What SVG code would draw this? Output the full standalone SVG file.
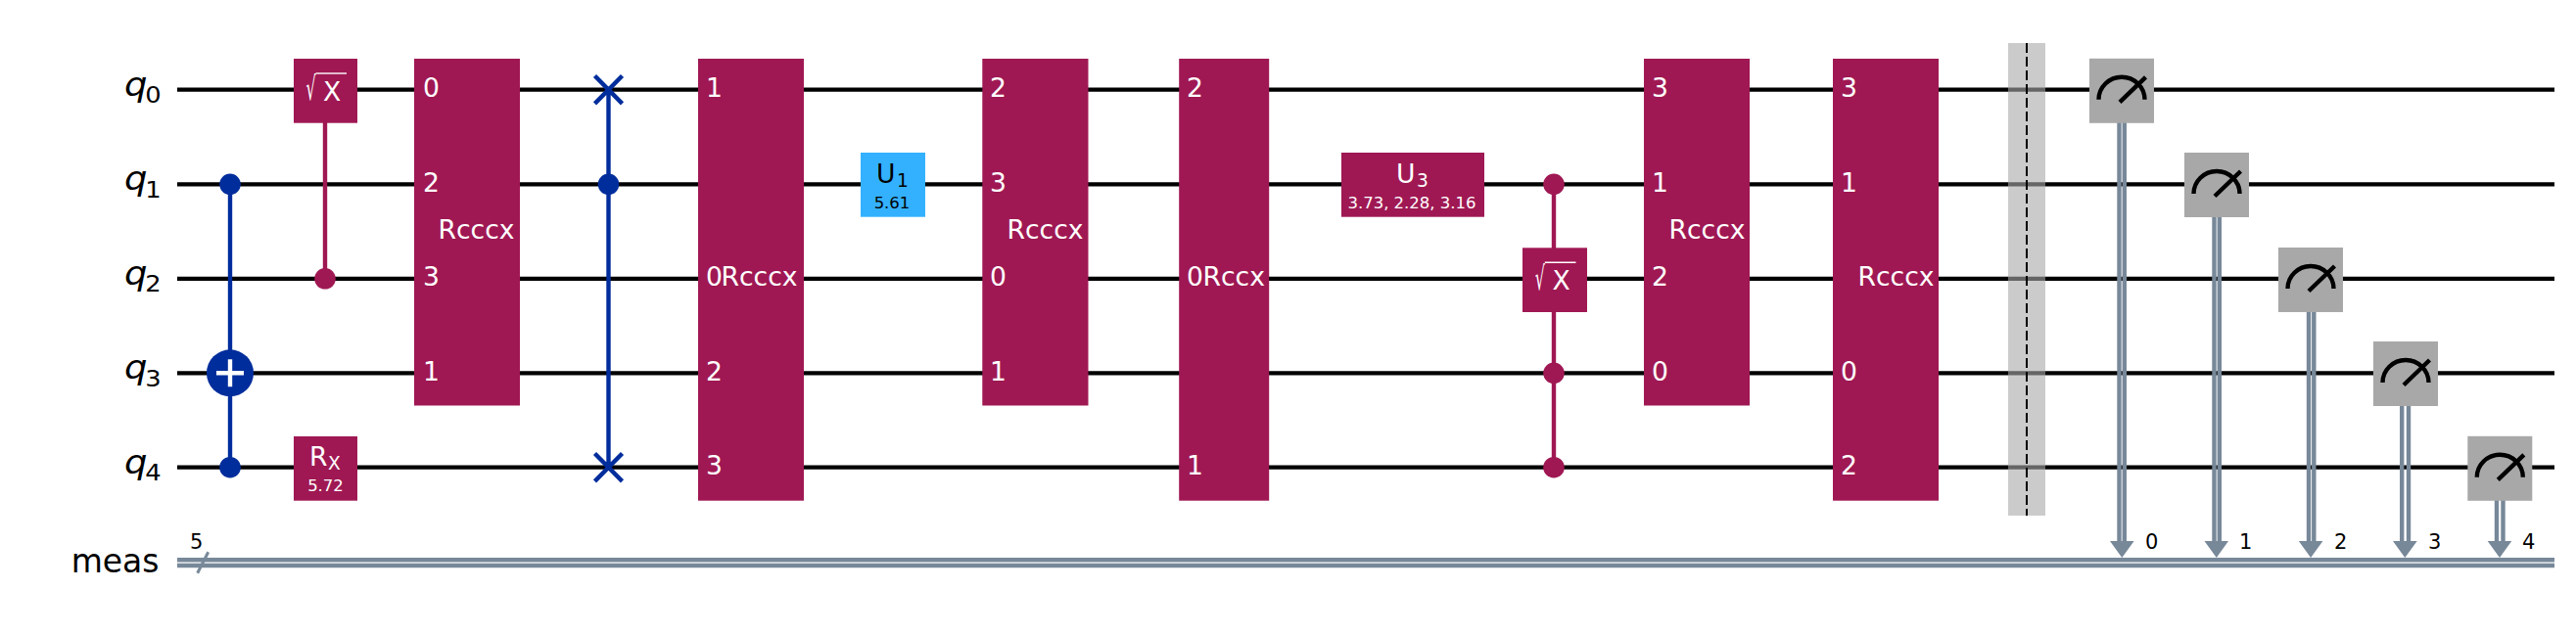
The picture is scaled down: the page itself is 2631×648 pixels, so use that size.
<svg xmlns="http://www.w3.org/2000/svg" width="2631" height="648" viewBox="0 0 2631 648">
<style>
text{font-family:"DejaVu Sans",sans-serif;font-size:26.6px;fill:#fff}
.lbl{fill:#000;font-size:33px}
.q{font-style:italic}
.sub{font-size:23px;font-style:normal}
.gs{font-size:18.6px}
.p{font-size:16.5px;text-anchor:middle}
.k{fill:#000}
.n{fill:#000;font-size:21px}
.g{fill:#9f1853}
.b{fill:#002d9c}
.m{fill:#a8a8a8}
.w{stroke:#000;stroke-width:4.2;fill:none}
.c{stroke:#778899;stroke-width:4.4;fill:none}
.lb{stroke:#002d9c;stroke-width:4.4;fill:none}
.lg{stroke:#9f1853;stroke-width:4.4;fill:none}
.ic{stroke:#000;stroke-width:4.4;fill:none}
.wl{stroke:#fff;stroke-width:4.4;fill:none}
.ol{stroke:#fff;stroke-width:1.4;fill:none}
</style>
<defs>
<g id="meter"><rect x="-33" y="-33" width="66" height="66" class="m"/><path class="ic" d="M-23.5 9A23.5 23 0 0 1 23.5 9"/><path class="ic" d="M-2 11.5L24.5 -14"/></g>
</defs>
<g id="connectors">
<path class="w" d="M181 91.7H2609M181 188.3H2609M181 284.8H2609M181 381.3H2609M181 477.7H2609"/>
<path class="c" d="M181 572.2H2609M181 578H2609"/>
<path stroke="#778899" stroke-width="3" fill="none" d="M201.7 585.7L212.7 564.3"/>
<path class="lb" d="M235 188.3V477.7"/>
<path class="lg" d="M332 125V284.8"/>
<path class="lb" d="M621.5 91.7V477.7M607.5 77.5L635.5 105.9M635.5 77.5L607.5 105.9M607.5 463.5L635.5 491.9M635.5 463.5L607.5 491.9"/>
<path class="lg" d="M1587 188.3V477.7"/>
<path class="c" d="M2164.5 125V556M2169.8 125V556M2261.5 222V556M2266.8 222V556M2358 319V556M2363.3 319V556M2453.2 414.5V556M2460 414.5V556M2550 511V556M2556.5 511V556"/>
<path fill="#778899" d="M2155 553H2179.6L2167.3 570ZM2251.5 553H2276L2263.8 570ZM2347.8 553H2372.4L2360.1 570ZM2444 553H2468.7L2456.3 570ZM2540.7 553H2565.3L2553 570Z"/>
</g>
<g id="labels">
<text class="lbl q" transform="translate(127 97.5) scale(1.12 1)">q<tspan class="sub" x="19" y="7.5">0</tspan></text>
<text class="lbl q" transform="translate(127 194) scale(1.12 1)">q<tspan class="sub" x="19" y="7.5">1</tspan></text>
<text class="lbl q" transform="translate(127 290.5) scale(1.12 1)">q<tspan class="sub" x="19" y="7.5">2</tspan></text>
<text class="lbl q" transform="translate(127 387) scale(1.12 1)">q<tspan class="sub" x="19" y="7.5">3</tspan></text>
<text class="lbl q" transform="translate(127 483.5) scale(1.12 1)">q<tspan class="sub" x="19" y="7.5">4</tspan></text>
<text class="lbl" x="162.5" y="584.5" text-anchor="end">meas</text>
<text class="n" x="194" y="561">5</text>
<text class="n" x="2191" y="561">0</text>
<text class="n" x="2287" y="561">1</text>
<text class="n" x="2384" y="561">2</text>
<text class="n" x="2480" y="561">3</text>
<text class="n" x="2576" y="561">4</text>
</g>
<g id="cx">
<circle cx="235" cy="188.3" r="10.8" class="b"/><circle cx="235" cy="477.7" r="10.8" class="b"/><circle cx="235" cy="381.3" r="24" class="b"/>
<path class="wl" d="M221 381.3H249M235 367.3V395.3"/>
</g>
<g id="csx1">
<circle cx="332" cy="284.8" r="10.8" class="g"/>
<rect x="300" y="60" width="65" height="65.7" class="g"/>
<text transform="translate(312.4 102.3) scale(.6 1.25)">√</text><path class="ol" d="M322.5 75H354"/><text x="330" y="102.7">X</text>
</g>
<g id="rx">
<rect x="300" y="446" width="65" height="65.7" class="g"/>
<text x="316" y="476">R<tspan class="gs" x="335" y="479.5">X</tspan></text>
<text class="p" x="332.5" y="502">5.72</text>
</g>
<g id="rcccx1">
<rect x="423" y="60" width="108" height="354.5" class="g"/>
<text x="432" y="99">0</text><text x="432" y="196">2</text><text x="432" y="292">3</text><text x="432" y="389">1</text>
<text x="447.5" y="243.5">Rcccx</text>
</g>
<g id="swap"><circle cx="621.5" cy="188.3" r="10.8" class="b"/></g>
<g id="rcccx2">
<rect x="713" y="60" width="108" height="451.7" class="g"/>
<text x="721" y="99">1</text><text x="721" y="292">0</text><text x="721" y="389">2</text><text x="721" y="485">3</text>
<text x="736.5" y="292">Rcccx</text>
</g>
<g id="u1">
<rect x="879" y="156" width="66" height="65.7" fill="#33b1ff"/>
<text class="k" x="895" y="187">U<tspan class="gs" x="916" y="190.5">1</tspan></text>
<text class="p k" x="911" y="212.5">5.61</text>
</g>
<g id="rcccx3">
<rect x="1003.3" y="60" width="108.2" height="354.5" class="g"/>
<text x="1011" y="99">2</text><text x="1011" y="196">3</text><text x="1011" y="292">0</text><text x="1011" y="389">1</text>
<text x="1028.5" y="243.5">Rcccx</text>
</g>
<g id="rccx">
<rect x="1204.2" y="60" width="92" height="451.7" class="g"/>
<text x="1212" y="99">2</text><text x="1212" y="292">0</text><text x="1212" y="485">1</text>
<text x="1228.5" y="292">Rccx</text>
</g>
<g id="u3">
<rect x="1370" y="156" width="146" height="65.7" class="g"/>
<text x="1426" y="187">U<tspan class="gs" x="1447" y="190.5">3</tspan></text>
<text class="p" x="1442" y="212.5">3.73, 2.28, 3.16</text>
</g>
<g id="csx2">
<circle cx="1587" cy="188.3" r="10.8" class="g"/><circle cx="1587" cy="381.3" r="10.8" class="g"/><circle cx="1587" cy="477.7" r="10.8" class="g"/>
<rect x="1555" y="253.3" width="66" height="65.7" class="g"/>
<text transform="translate(1567.7 295.6) scale(.6 1.25)">√</text><path class="ol" d="M1577.8 268.3H1609.5"/><text x="1585.5" y="296">X</text>
</g>
<g id="rcccx4">
<rect x="1679" y="60" width="108" height="354.5" class="g"/>
<text x="1687" y="99">3</text><text x="1687" y="196">1</text><text x="1687" y="292">2</text><text x="1687" y="389">0</text>
<text x="1704.5" y="243.5">Rcccx</text>
</g>
<g id="rcccx5">
<rect x="1872" y="60" width="108" height="451.7" class="g"/>
<text x="1880" y="99">3</text><text x="1880" y="196">1</text><text x="1880" y="389">0</text><text x="1880" y="485">2</text>
<text x="1897.5" y="292">Rcccx</text>
</g>
<g id="barrier">
<rect x="2051" y="44" width="38" height="483" fill="#a8a8a8" fill-opacity=".6"/>
<path stroke="#000" stroke-width="2" stroke-dasharray="10 4" fill="none" d="M2070 44V527"/>
</g>
<g id="m0"><use href="#meter" x="2167" y="92.8"/></g>
<g id="m1"><use href="#meter" x="2264" y="189"/></g>
<g id="m2"><use href="#meter" x="2360" y="286"/></g>
<g id="m3"><use href="#meter" x="2457" y="382"/></g>
<g id="m4"><use href="#meter" x="2553.3" y="478.8"/></g>
</svg>
